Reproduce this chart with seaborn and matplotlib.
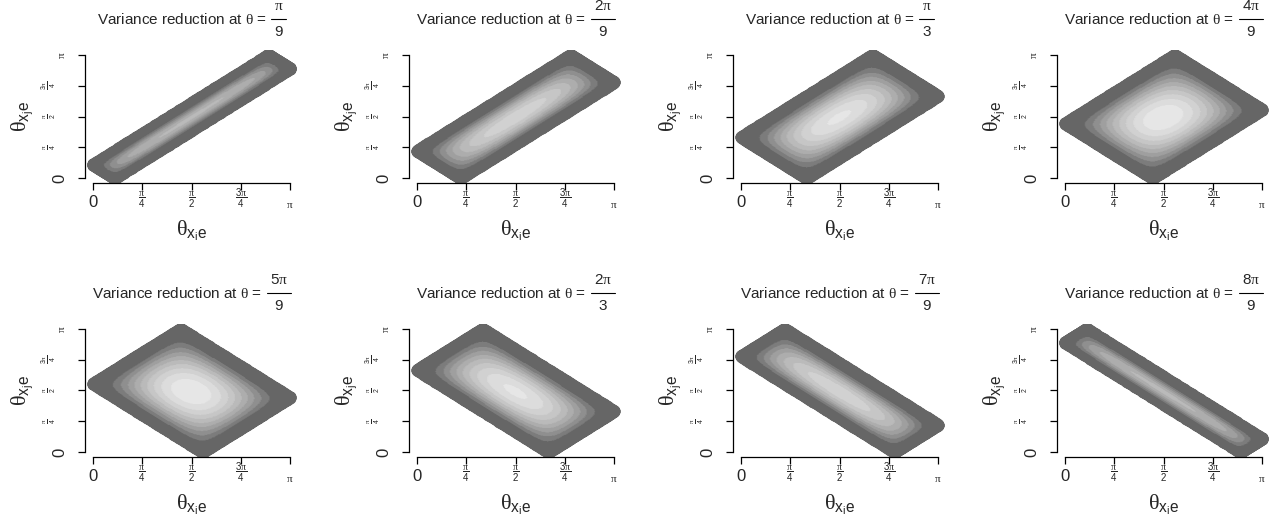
import numpy as np
import pandas as pd
import matplotlib
matplotlib.use("Agg")
import matplotlib.pyplot as plt
from matplotlib.lines import Line2D
from matplotlib.transforms import IdentityTransform, offset_copy
import seaborn as sns

# angle between x_i and x_j in each panel, in units of pi/9
theta_ninths = [1, 2, 3, 4, 5, 6, 7, 8]
theta_num = [r"$\pi$", r"$2\pi$", r"$\pi$", r"$4\pi$", r"$5\pi$", r"$2\pi$", r"$7\pi$", r"$8\pi$"]
theta_den = ["9", "9", "3", "9", "9", "3", "9", "9"]

# contour breaks of the variance reduction and the grey of each band
level_breaks = [0.0, 0.1, 0.2, 0.3, 0.4, 0.5, 0.6, 0.7, 0.8, 0.9, 1.0]
level_greys = ["#666666", "#7C7C7C", "#8F8F8F", "#9F9F9F", "#ADADAD",
               "#BABABA", "#C6C6C6", "#D1D1D1", "#DCDCDC", "#E6E6E6"]

tick_pos = [0, np.pi / 4, np.pi / 2, 3 * np.pi / 4, np.pi]
xtick_labels = ["0", r"$\dfrac{\pi}{4}$", r"$\dfrac{\pi}{2}$", r"$\dfrac{3\pi}{4}$", r"$\pi$"]
ytick_labels = ["0", r"$\frac{\pi}{4}$", r"$\frac{\pi}{2}$", r"$\frac{3\pi}{4}$", r"$\pi$"]
grid_n = 201


def variance_grid(theta):
    # angles of e with x_i (a) and x_j (b); only the attainable rectangle is kept
    g = np.linspace(0, np.pi, grid_n)
    a, b = np.meshgrid(g, g)
    w1, w2 = theta, np.pi - theta
    s1 = (w1 ** 2 - (a - b) ** 2) / (2 * w1)
    s2 = (w2 ** 2 - (a + b - np.pi) ** 2) / (2 * w2)
    ok = (s1 >= -1e-9) & (s2 >= -1e-9)
    s1, s2 = np.clip(s1, 1e-9, None), np.clip(s2, 1e-9, None)
    f = s1 * s2 / (s1 + s2)
    fmax = w1 * w2 / (2 * np.pi)
    v = (fmax / (np.pi / 8)) ** 0.7 * (f / fmax) ** 2.3
    df = pd.DataFrame({"a": a.ravel(), "b": b.ravel(), "v": v.ravel(), "ok": ok.ravel()})
    df = df[df["ok"]].copy()
    df["level"] = np.clip(np.digitize(df["v"], level_breaks) - 1, 0, len(level_greys) - 1)
    return df


def region_edge(theta, n=200):
    # outline of the attainable rectangle
    ca = [theta, np.pi, np.pi - theta, 0, theta]
    cb = [0, np.pi - theta, np.pi, theta, 0]
    t = np.linspace(0, 1, n)
    ea = np.concatenate([ca[i] + (ca[i + 1] - ca[i]) * t for i in range(4)])
    eb = np.concatenate([cb[i] + (cb[i + 1] - cb[i]) * t for i in range(4)])
    return pd.DataFrame({"a": ea, "b": eb})


sns.set_style("ticks")
plt.rcParams["font.family"] = ["Liberation Sans", "DejaVu Sans"]
plt.rcParams["mathtext.fontset"] = "custom"
plt.rcParams["mathtext.rm"] = "Liberation Sans"
plt.rcParams["mathtext.it"] = "Liberation Serif"
plt.rcParams["mathtext.bf"] = "Liberation Sans:bold"

W, H = 1270, 522
fig = plt.figure(figsize=(W / 100, H / 100), dpi=100)
renderer = fig.canvas.get_renderer()
pal = dict(enumerate(level_greys))
px = IdentityTransform()

for k, n in enumerate(theta_ninths):
    row, col = divmod(k, 4)
    left, top = 85 + 324 * col, 50 + 274 * row
    ax = fig.add_axes([left / W, 1 - (top + 133) / H, 213 / W, 133 / H])
    theta = n * np.pi / 9
    df = variance_grid(theta)
    rim = pd.concat([region_edge(theta), df[["a", "b"]]])

    # dark rim: the attainable points as fat dots, then the bands on top
    sns.scatterplot(data=rim, x="a", y="b", color=level_greys[0],
                    s=75, linewidth=0, marker="o", legend=False, ax=ax)
    sns.scatterplot(data=df, x="a", y="b", hue="level", palette=pal,
                    s=3.5, linewidth=0, marker="o", legend=False, ax=ax)

    ax.set_xlim(-0.04 * np.pi, 1.04 * np.pi)
    ax.set_ylim(-0.04 * np.pi, 1.04 * np.pi)
    sns.despine(ax=ax)
    ax.spines["left"].set_bounds(0, np.pi)
    ax.spines["bottom"].set_bounds(0, np.pi)
    for s in ["left", "bottom"]:
        ax.spines[s].set_linewidth(0.9)
        ax.spines[s].set_color("black")

    ax.set_xticks(tick_pos)
    ax.set_yticks(tick_pos)
    ax.set_xticklabels([])
    ax.set_yticklabels([])
    ax.tick_params(length=5, width=0.9, color="black")

    xt = ax.get_xaxis_transform()
    for v, lab, fs in zip(tick_pos, xtick_labels, [12, 7, 7, 7, 8]):
        ax.text(v, 0, lab, transform=offset_copy(xt, fig=fig, x=0, y=-27, units="dots"),
                ha="center", va="bottom", fontsize=fs)
    yt = ax.get_yaxis_transform()
    for v, lab, fs, dx in zip(tick_pos, ytick_labels, [12, 7, 7, 7, 8], [18, 27, 27, 27, 18]):
        ax.text(0, v, lab, transform=offset_copy(yt, fig=fig, x=-dx, y=0, units="dots"),
                ha="right", va="center", rotation=90, fontsize=fs)

    ax.set_xlabel(r"$\theta_{\mathrm{x}_{\mathrm{i}}\mathrm{e}}$", fontsize=16)
    ax.set_ylabel(r"$\theta_{\mathrm{x}_{\mathrm{j}}\mathrm{e}}$", fontsize=16)
    ax.xaxis.set_label_coords(0.5, -0.27)
    ax.yaxis.set_label_coords(-0.235, 0.5)

    # title with a full size stacked fraction
    cx = left + 213 / 2
    base = H - top + 26
    pre = fig.text(0, base, r"Variance reduction at $\theta$ =", transform=px,
                   fontsize=11, ha="left", va="baseline")
    num = fig.text(0, base + 14, theta_num[k], transform=px, fontsize=11,
                   ha="center", va="baseline")
    den = fig.text(0, base - 1, theta_den[k], transform=px, fontsize=11,
                   ha="center", va="top")
    wp = pre.get_window_extent(renderer).width
    wf = max(num.get_window_extent(renderer).width, den.get_window_extent(renderer).width) + 6
    x0 = cx - (wp + 4 + wf) / 2
    fx = x0 + wp + 4 + wf / 2
    pre.set_x(x0)
    num.set_x(fx)
    den.set_x(fx)
    fig.add_artist(Line2D([fx - wf / 2, fx + wf / 2], [base + 5, base + 5],
                          transform=px, color="black", lw=0.8))

fig.savefig("out.png", dpi=100)
